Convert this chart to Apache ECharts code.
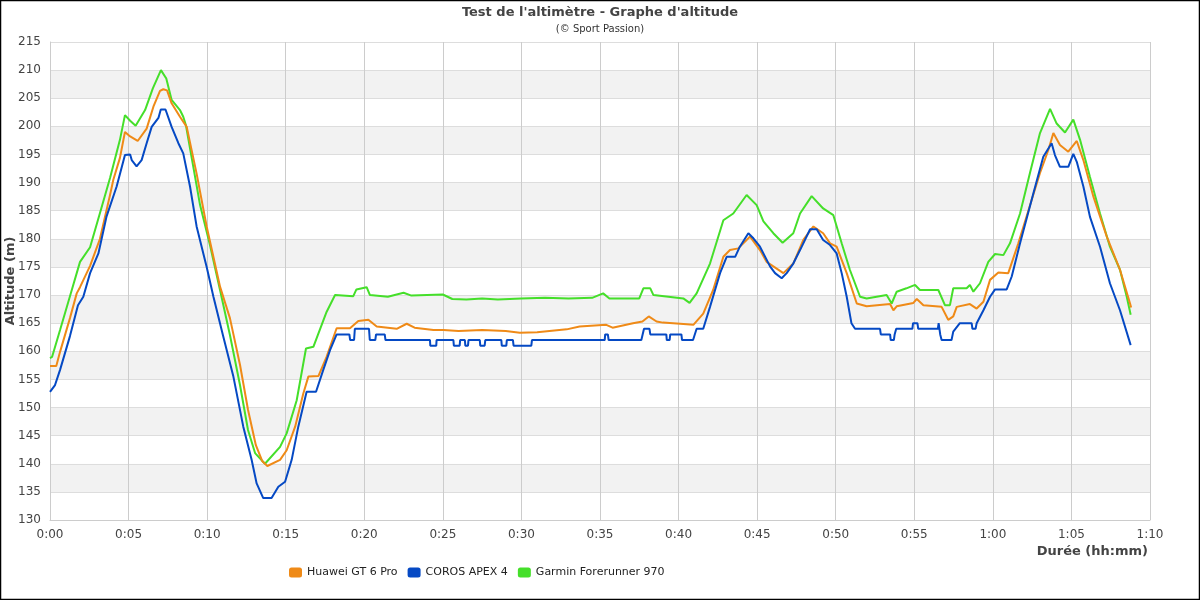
<!DOCTYPE html>
<html><head><meta charset="utf-8">
<script src="https://cdn.jsdelivr.net/npm/echarts@6/dist/echarts.min.js"></script>
<style>html,body{margin:0;padding:0;background:#fff}#c{width:1200px;height:600px}</style>
</head><body><div id="c"></div>
<script>
const seriesNames = ['Huawei GT 6 Pro', 'COROS APEX 4', 'Garmin Forerunner 970'];
const xTicks = [0,5,10,15,20,25,30,35,40,45,50,55,60,65,70];

const huawei = [[0,157.4],[0.4,157.4],[0.64,159.9],[1.27,165.9],[1.7,170.3],[1.91,171.4],[2.55,175.2],[3.18,180],[3.82,187.8],[4.03,190.5],[4.45,194.4],[4.77,199.0],[5.1,198.2],[5.58,197.4],[6.15,199.6],[6.58,203.5],[7.0,206.3],[7.21,206.6],[7.45,206.4],[7.74,204.1],[8.27,201.7],[8.7,199.9],[9.33,191.6],[9.97,182.2],[10.82,171.5],[11.45,165.9],[12.09,157.6],[12.6,149.6],[13.1,143.3],[13.5,140.5],[13.83,139.6],[14.64,140.7],[15.06,142.4],[15.6,146.6],[16.12,152.5],[16.44,155.5],[17.08,155.6],[17.6,159.0],[18.24,164.1],[19.09,164.1],[19.62,165.4],[20.26,165.6],[20.79,164.4],[22.06,164.0],[22.7,164.9],[23.2,164.2],[24.4,163.8],[25.03,163.8],[26,163.6],[27.5,163.8],[29.0,163.6],[29.9,163.3],[31,163.4],[32.88,163.9],[33.7,164.4],[35.4,164.7],[35.8,164.2],[37.1,165.0],[37.7,165.3],[38.1,166.2],[38.6,165.3],[39,165.1],[40.1,164.9],[40.94,164.7],[41.57,166.7],[42.2,170.9],[42.85,176.8],[43.27,178],[43.8,178.3],[44.55,180.4],[45.18,178.0],[45.6,175.9],[46.67,173.9],[47.3,175.6],[47.94,179.8],[48.58,182.2],[49.2,181.0],[49.64,179.2],[50.06,178.6],[50.7,173.9],[51.34,168.5],[51.97,168.0],[53.46,168.4],[53.67,167.3],[53.88,168.0],[54.94,168.6],[55.16,169.3],[55.58,168.2],[56.74,167.9],[57.16,165.6],[57.48,166.2],[57.7,167.9],[58.54,168.4],[58.97,167.6],[59.4,168.8],[59.82,172.7],[60.35,174.0],[60.98,173.9],[61.62,179.2],[62.15,184.0],[63.0,191.7],[63.53,195.8],[63.85,198.8],[64.27,196.7],[64.8,195.5],[65.34,197.4],[65.76,194.0],[66.4,187.5],[67.25,180.4],[68.09,174.5],[68.73,168.5],[68.8,167.8]];

const coros = [[0,152.8],[0.32,154],[0.64,156.7],[1.27,162.7],[1.78,168.2],[2.12,169.7],[2.55,173.9],[3.08,177.4],[3.6,184],[4.24,189.3],[4.77,194.9],[5.1,195],[5.2,194],[5.51,192.9],[5.83,194.0],[6.15,197],[6.47,199.9],[6.9,201.5],[7.05,203],[7.35,203],[7.74,199.9],[8.17,197.0],[8.48,195.2],[8.91,189.3],[9.33,182.2],[9.97,175.0],[10.4,169.7],[11.03,162.6],[11.67,155.5],[12.3,146.6],[12.83,140.7],[13.15,136.5],[13.57,133.9],[14.1,133.9],[14.53,135.9],[14.96,136.8],[15.38,140.7],[15.8,146.6],[16.33,152.8],[16.93,152.8],[17.39,156.7],[17.82,160.2],[18.24,163],[19.05,163],[19.1,162],[19.35,162],[19.4,164],[20.3,164],[20.35,162],[20.7,162],[20.75,163],[21.3,163],[21.35,162],[24.18,162],[24.2,161],[24.58,161],[24.6,162],[25.67,162],[25.7,161],[26.07,161],[26.1,162],[26.4,162],[26.43,161],[26.6,161],[26.63,162],[27.35,162],[27.38,161],[27.66,161],[27.7,162],[28.72,162],[28.75,161],[29.04,161],[29.07,162],[29.46,162],[29.5,161],[30.63,161],[30.67,162],[35.3,162],[35.33,163],[35.5,163],[35.55,162],[37.63,162],[37.8,164],[38.15,164],[38.2,163],[39.22,163],[39.25,162],[39.43,162],[39.47,163],[40.18,163],[40.22,162],[40.92,162],[41.15,164],[41.57,164],[42,167.9],[42.64,173.9],[43.06,176.8],[43.6,176.8],[43.9,178.6],[44.44,181],[44.76,180.1],[45.18,178.6],[45.82,175.1],[46.14,173.9],[46.56,173],[46.88,173.9],[47.3,175.6],[47.73,178],[48.37,181.7],[48.79,181.7],[49.2,179.8],[49.64,178.9],[50.06,177.4],[50.38,173.9],[50.7,169.7],[51.0,165],[51.23,164],[52.82,164],[52.87,163],[53.46,163],[53.5,162],[53.7,162],[53.75,163],[53.85,164],[54.88,164],[54.92,165],[55.2,165],[55.25,164],[56.5,164],[56.55,165],[56.65,163],[56.74,162],[57.37,162],[57.48,163.5],[57.9,165],[58.65,165],[58.7,164],[58.9,164],[58.97,165],[59.4,167.3],[59.82,169.7],[60.14,171],[60.88,171],[61.2,173.3],[61.73,179.2],[62.58,188.1],[63.21,194.6],[63.74,197],[63.95,194.9],[64.27,192.8],[64.8,192.8],[65.12,195.1],[65.34,193.7],[65.76,189.3],[66.18,183.9],[66.82,178.6],[67.45,172.1],[68.09,167.3],[68.77,161.1]];

const garmin = [[0,158.8],[0.13,159.0],[0.64,163.8],[1.27,169.8],[1.91,175.9],[2.55,178.5],[3.18,184.6],[3.82,190.8],[4.45,197.6],[4.77,202],[5.1,201.0],[5.45,200.1],[6.05,202.9],[6.55,206.8],[7.06,210],[7.4,208.5],[7.74,204.7],[8.27,202.9],[8.48,201.7],[8.65,200.2],[9.1,193.1],[9.55,186.0],[10.18,178.9],[10.82,170.9],[11.45,162.9],[12.09,154.0],[12.6,146.0],[13.05,141.9],[13.68,140.0],[14.64,143.0],[15.06,145.4],[15.7,151.3],[16.29,160.5],[16.76,160.8],[17.6,167.0],[18.14,170.0],[19.3,169.8],[19.5,171.0],[20.15,171.4],[20.36,170.0],[21.5,169.7],[22.5,170.4],[23,169.9],[24,170.0],[25,170.1],[25.6,169.3],[26.5,169.2],[27.5,169.4],[28.5,169.2],[30,169.4],[31.5,169.5],[33,169.4],[34.5,169.5],[35.2,170.3],[35.6,169.4],[37.5,169.4],[37.76,171.2],[38.2,171.2],[38.4,170.0],[40.3,169.4],[40.7,168.6],[41.15,170.3],[42.0,175.6],[42.85,183.3],[43.48,184.5],[44.33,187.8],[44.97,186.0],[45.4,183.1],[46.03,181.0],[46.62,179.3],[47.3,181.0],[47.73,184.5],[48.47,187.6],[49.2,185.4],[49.85,184.2],[50.38,179.2],[50.9,174.5],[51.55,169.7],[51.97,169.4],[53.24,170],[53.56,168.5],[53.88,170.6],[54.5,171.2],[55.05,171.8],[55.36,170.9],[56.53,170.9],[56.95,168.2],[57.27,168.2],[57.48,171.2],[58.33,171.2],[58.54,171.8],[58.76,170.6],[59.18,172.1],[59.71,175.9],[60.14,177.3],[60.67,177.1],[61.09,179.2],[61.73,184.5],[62.36,191.7],[63.0,198.8],[63.64,203.1],[64.06,200.5],[64.59,198.9],[65.12,201.2],[65.55,197.6],[66.18,191.0],[66.82,184.5],[67.45,178.6],[68.09,174.5],[68.52,169.7],[68.77,166.5]];

const colors = ['#ef8a17', '#0549c4', '#45df2a'];
const font = 'DejaVu Sans';

function fmt(v){ const h = Math.floor(v/60), m = Math.round(v%60); return h + ':' + (m<10?'0':'') + m; }

const chart = echarts.init(document.getElementById('c'), null, {renderer:'canvas'});
chart.setOption({
  animation: false,
  backgroundColor: '#fff',
  color: colors,
  title: {
    text: "Test de l'altimètre - Graphe d'altitude",
    subtext: '(© Sport Passion)',
    left: 'center', top: 1, itemGap: 5,
    textStyle: {fontFamily: font, fontSize: 13, fontWeight: 'bold', color: '#444'},
    subtextStyle: {fontFamily: font, fontSize: 10, color: '#333'}
  },
  legend: {
    left: 284, top: 562, icon: 'roundRect', itemWidth: 13, itemHeight: 10, itemGap: 10,
    textStyle: {fontFamily: font, fontSize: 11, color: '#222'},
    data: seriesNames
  },
  grid: {left: 50, right: 50, top: 42, bottom: 80, containLabel: false, outerBoundsMode: 'none'},
  xAxis: {
    type: 'value', min: 0, max: 70, interval: 5,
    name: 'Durée (hh:mm)', nameLocation: 'end', nameGap: -2, nameMoveOverlap: false,
    nameTextStyle: {fontFamily: font, fontSize: 13, fontWeight: 'bold', color: '#444', align: 'right', verticalAlign: 'top', padding: [25,0,0,0]},
    axisLine: {lineStyle: {color: '#ccc'}},
    axisTick: {show: false},
    axisLabel: {fontFamily: font, fontSize: 12, color: '#444', margin: 9, formatter: v => xTicks.includes(v) ? fmt(v) : ''},
    splitLine: {show: true, lineStyle: {color: '#ccc'}}
  },
  yAxis: {
    type: 'value', min: 130, max: 215, interval: 5,
    name: 'Altitude (m)', nameLocation: 'middle', nameGap: 33, nameRotate: 90, nameMoveOverlap: false,
    nameTextStyle: {fontFamily: font, fontSize: 13, fontWeight: 'bold', color: '#444'},
    axisLine: {show: true, lineStyle: {color: '#ccc'}},
    axisTick: {show: false},
    axisLabel: {fontFamily: font, fontSize: 12, color: '#444', margin: 9},
    splitLine: {show: true, lineStyle: {color: '#ddd'}},
    splitArea: {show: true, areaStyle: {color: ['#ffffff', '#f2f2f2']}}
  },
  series: [
    {name: seriesNames[0], type: 'line', data: huawei, showSymbol: false, lineStyle: {width: 2}, z: 3},
    {name: seriesNames[1], type: 'line', data: coros, showSymbol: false, lineStyle: {width: 2}, z: 4},
    {name: seriesNames[2], type: 'line', data: garmin, showSymbol: false, lineStyle: {width: 2}, z: 2}
  ],
  graphic: [{type: 'rect', shape: {x: 0.5, y: 0.5, width: 1199, height: 599}, style: {fill: 'none', stroke: '#000', lineWidth: 1.5}, silent: true, z: 100}]
});
</script></body></html>
